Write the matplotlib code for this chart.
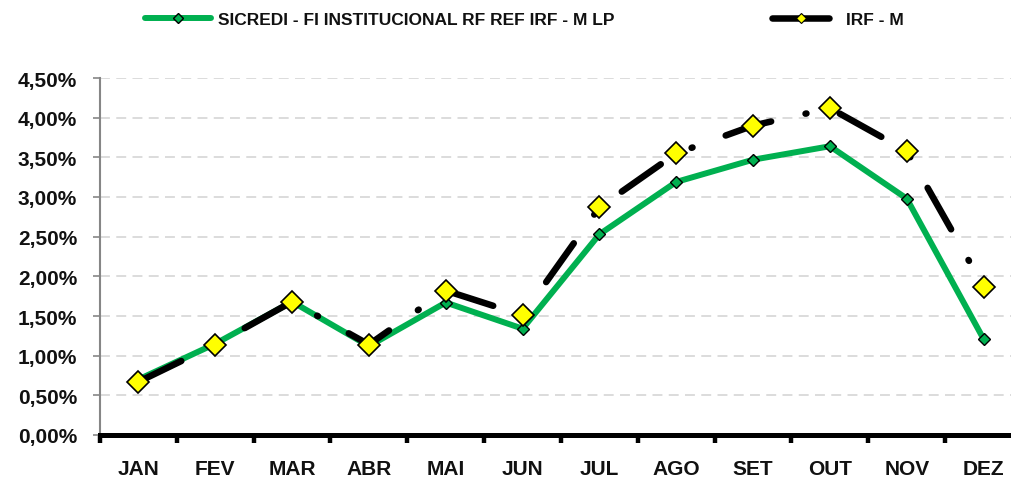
import matplotlib
matplotlib.use("Agg")
import matplotlib.pyplot as plt
from matplotlib.lines import Line2D
from matplotlib.ticker import FixedLocator, FuncFormatter, MultipleLocator
import numpy as np

# Monthly returns (%).
months = ["JAN", "FEV", "MAR", "ABR", "MAI", "JUN", "JUL", "AGO", "SET", "OUT", "NOV", "DEZ"]
fund_name = "SICREDI - FI INSTITUCIONAL RF REF IRF - M LP"
bench_name = "IRF - M"
fund_values = [0.70, 1.15, 1.68, 1.12, 1.67, 1.34, 2.53, 3.19, 3.47, 3.64, 2.98, 1.21]
bench_values = [0.67, 1.14, 1.68, 1.14, 1.82, 1.51, 2.87, 3.55, 3.90, 4.12, 3.58, 1.87]

GREEN = "#00B050"
YELLOW = "#FFFF00"

plt.rcParams["font.family"] = ["Liberation Sans", "DejaVu Sans"]
plt.rcParams["font.weight"] = "bold"

W, H = 1012, 481
fig = plt.figure(figsize=(W / 100, H / 100), dpi=100)
ax = fig.add_axes([100 / W, 45 / H, 922 / W, 357 / H])

x = np.arange(len(months))
ax.plot(x, fund_values, color=GREEN, lw=4.3, solid_capstyle="round",
        marker="D", ms=6.2, mfc=GREEN, mec="black", mew=1.0, zorder=3)
ax.plot(x, bench_values, color="black", lw=4.7,
        linestyle=(0, (7.3, 5.4, 0.15, 5.4)), dash_capstyle="round",
        marker="D", ms=11, mfc=YELLOW, mec="black", mew=1.2, zorder=4)

ax.set_xlim(-0.5, len(months) - 0.5)
ax.set_ylim(0, 4.5)

# y axis
ax.yaxis.set_major_locator(MultipleLocator(0.5))
ax.yaxis.set_major_formatter(FuncFormatter(lambda v, _: f"{v:.2f}%".replace(".", ",")))
ax.tick_params(axis="y", length=5, width=1.2, color="#868686", pad=11.5,
               labelsize=15, labelcolor="#111111")
ax.yaxis.grid(True, color="#D9D9D9", lw=1.3, linestyle=(0, (5.5, 3.5)))
ax.set_axisbelow(True)

# x axis: labels centred, tick marks between months
ax.set_xticks(x)
ax.set_xticklabels(months)
ax.xaxis.set_minor_locator(FixedLocator(np.arange(-0.5, len(months), 1.0)))
ax.tick_params(axis="x", which="major", length=0, pad=17, labelsize=15,
               labelcolor="#111111")
ax.tick_params(axis="x", which="minor", length=6, width=3.2, color="black")

for side in ("top", "right"):
    ax.spines[side].set_visible(False)
ax.spines["left"].set_color("#868686")
ax.spines["left"].set_linewidth(1.5)
ax.spines["bottom"].set_color("black")
ax.spines["bottom"].set_linewidth(3.6)
ax.spines["bottom"].set_zorder(5)

# legend drawn by hand to mirror the layout of the original
def px(xp, yp):
    return xp / W, 1 - yp / H

ly = 19
x0, y0 = px(144.5, ly)
x1, _ = px(211.5, ly)
fig.add_artist(Line2D([x0, x1], [y0, y0], color=GREEN, lw=4.3,
                      solid_capstyle="round", transform=fig.transFigure))
xm, _ = px(178, ly)
fig.add_artist(Line2D([xm], [y0], marker="D", ms=5.5, mfc=GREEN, mec="black",
                      mew=1.0, transform=fig.transFigure))
tx, ty = px(218, ly + 6.2)
fig.text(tx, ty, fund_name, fontsize=12.5, fontweight="bold", va="baseline",
         color="#111111")

x0, _ = px(772.5, ly)
x1, _ = px(829, ly)
fig.add_artist(Line2D([x0, x1], [y0, y0], color="black", lw=4.7,
                      solid_capstyle="round", transform=fig.transFigure))
xm, _ = px(801, ly)
fig.add_artist(Line2D([xm], [y0], marker="D", ms=5, mfc=YELLOW, mec="black",
                      mew=0.8, transform=fig.transFigure))
tx, _ = px(846, ly)
fig.text(tx, ty, bench_name, fontsize=12.5, fontweight="bold", va="baseline",
         color="#111111")

fig.savefig("out.png", dpi=100)
